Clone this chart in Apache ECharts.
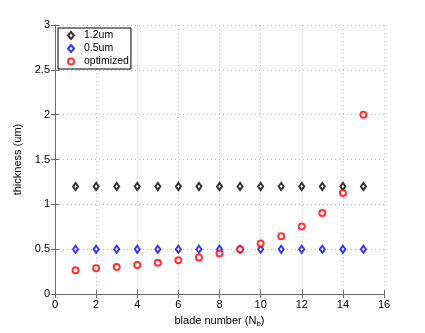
<!DOCTYPE html>
<html><head><meta charset="utf-8">
<script src="https://cdn.jsdelivr.net/npm/echarts@6/dist/echarts.min.js"></script>
<style>html,body{margin:0;padding:0;background:#fff}#c{width:425px;height:333px}</style>
</head><body><div id="c"></div>
<script>
var bladeNumbers = [1,2,3,4,5,6,7,8,9,10,11,12,13,14,15];
var thick12 = [1.2,1.2,1.2,1.2,1.2,1.2,1.2,1.2,1.2,1.2,1.2,1.2,1.2,1.2,1.2];
var thick05 = [0.5,0.5,0.5,0.5,0.5,0.5,0.5,0.5,0.5,0.5,0.5,0.5,0.5,0.5,0.5];
var thickOpt = [0.265,0.287,0.302,0.324,0.35,0.376,0.409,0.453,0.5,0.564,0.645,0.755,0.903,1.128,2.0];
var seriesNames = ['1.2um','0.5um','optimized'];

function pairs(ys){ return bladeNumbers.map(function(x,i){return [x, ys[i]];}); }
var font = 'Liberation Sans, Arial, Helvetica, sans-serif';
var chart = echarts.init(document.getElementById('c'));
var axisLine = {show:true, lineStyle:{color:'#6b6b6b', width:1}};
var tick = {show:true, inside:true, length:4, lineStyle:{color:'#6b6b6b'}};
var grid = {show:true, lineStyle:{color:'#bcbcbc', type:[1,3], width:1}};
chart.setOption({
  animation:false,
  grid:{left:55, top:25, right:41, bottom:37, containLabel:false},
  legend:{
    left:58, top:28, orient:'vertical', itemGap:0, itemWidth:6, itemHeight:7,
    padding:[1,2,1,9], borderColor:'#000', borderWidth:1, backgroundColor:'#fff',
    textStyle:{fontFamily:font, fontSize:10.5, color:'#000', padding:[1,0,0,5], lineHeight:12},
    data: [
      {name:seriesNames[0], icon:'emptyDiamond'},
      {name:seriesNames[1], icon:'emptyDiamond'},
      {name:seriesNames[2], icon:'emptyCircle'}
    ]
  },
  xAxis:[{
    type:'value', min:0, max:16, interval:2, position:'bottom',
    axisLine:axisLine, axisTick:tick, splitLine:grid,
    axisLabel:{fontFamily:font, fontSize:11, color:'#000', margin:5},
    name:'blade number (N{sub|b})', nameLocation:'middle', nameGap:18,
    nameTextStyle:{fontFamily:font, fontSize:11, color:'#000',
      rich:{sub:{fontFamily:font, fontSize:8, color:'#000', padding:[7,0,0,0]}}}
  },{
    type:'value', min:0, max:16, interval:2, position:'top',
    axisLine:axisLine, axisTick:tick, splitLine:{show:false}, axisLabel:{show:false}
  }],
  yAxis:[{
    type:'value', min:0, max:3, interval:0.5, position:'left',
    axisLine:axisLine, axisTick:tick, splitLine:grid,
    axisLabel:{fontFamily:font, fontSize:11, color:'#000', margin:5},
    name:'thickness (um)', nameLocation:'middle', nameGap:22, nameRotate:90,
    nameTextStyle:{fontFamily:font, fontSize:11, color:'#000'}
  },{
    type:'value', min:0, max:3, interval:0.5, position:'right',
    axisLine:axisLine, axisTick:tick, splitLine:{show:false}, axisLabel:{show:false}
  }],
  series:[
    {name:seriesNames[0], type:'scatter', data:pairs(thick12), symbol:'emptyDiamond', symbolSize:[5,7],
     itemStyle:{color:'#000', borderColor:'#000', borderWidth:1.2}},
    {name:seriesNames[1], type:'scatter', data:pairs(thick05), symbol:'emptyDiamond', symbolSize:[5,7],
     itemStyle:{color:'#0000ff', borderColor:'#0000ff', borderWidth:1.2}},
    {name:seriesNames[2], type:'scatter', data:pairs(thickOpt), symbol:'emptyCircle', symbolSize:6,
     itemStyle:{color:'#ff0000', borderColor:'#ff0000', borderWidth:1.2}}
  ]
});
</script></body></html>
